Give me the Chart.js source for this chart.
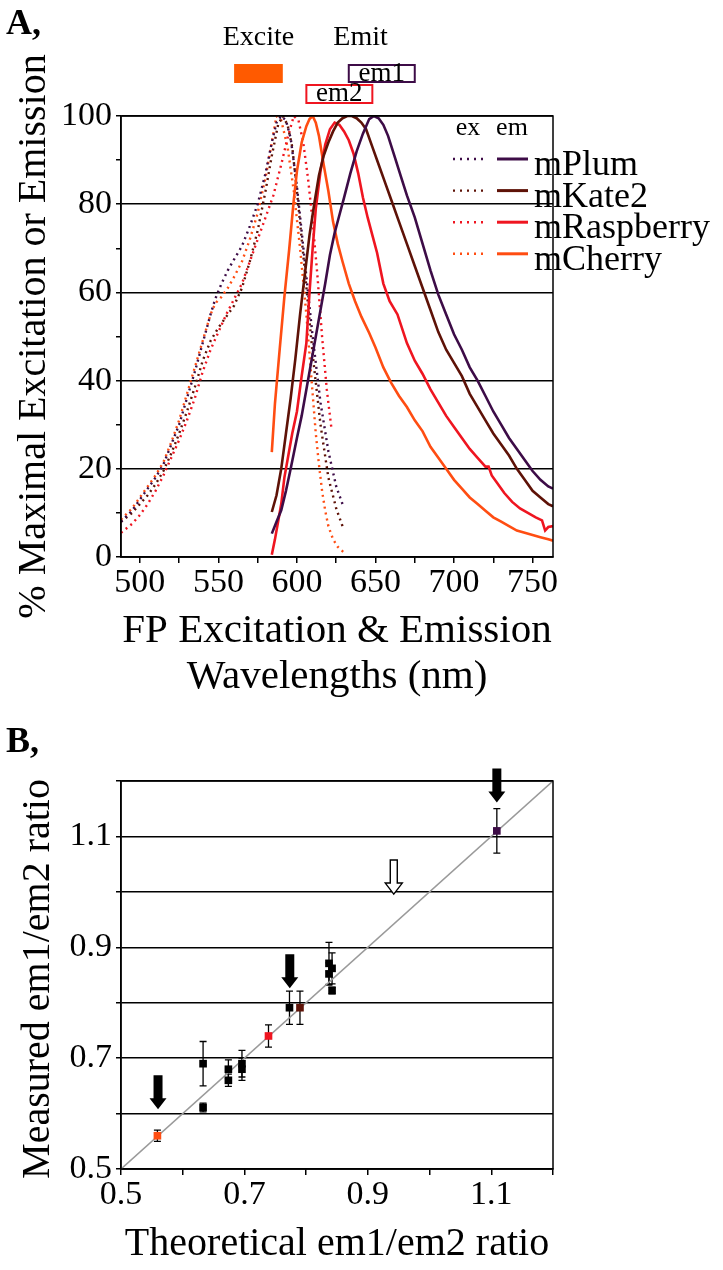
<!DOCTYPE html>
<html>
<head>
<meta charset="utf-8">
<script src="https://cdn.jsdelivr.net/npm/chart.js@4.4.0/dist/chart.umd.min.js"></script>
<style>
  html, body { margin: 0; padding: 0; background: #fff; }
  #page { position: relative; width: 723px; height: 1270px; overflow: hidden; }
  canvas { position: absolute; left: 0; }
  #chartA { top: 0; }
  #chartB { top: 700px; }
</style>
</head>
<body>
<div id="page">
  <canvas id="chartA" width="723" height="700"></canvas>
  <canvas id="chartB" width="723" height="570"></canvas>
</div>
<script>
// ---- Panel A: normalised spectra (% of max) ----
const plumExNm  = [488, 495, 500, 505, 510, 515, 520, 525, 530, 535, 540, 545, 548, 552, 556, 560, 565, 570, 575, 580, 584, 587, 590, 593, 596, 600, 605, 610, 615, 620, 625, 629];
const plumExVal = [8, 10.5, 13, 15.5, 18, 21, 25.5, 30, 36, 42, 48.5, 55, 58.5, 62, 65, 67.5, 70.5, 75, 80, 87, 94, 98.5, 100, 99, 95, 84, 67, 50, 35, 24, 16, 12];

const kateExNm  = [488, 495, 500, 505, 510, 515, 520, 525, 530, 535, 540, 545, 550, 555, 560, 565, 570, 575, 580, 584, 588, 591, 594, 597, 600, 605, 610, 615, 620, 625, 629];
const kateExVal = [8, 10, 12, 14, 16.5, 19.5, 23.5, 28, 33, 38.5, 44.5, 49, 52, 54.5, 57, 61, 67, 74, 83, 91, 98, 100, 98, 93, 83, 65, 46, 30, 18, 11, 7];

const raspExNm  = [488, 495, 500, 505, 510, 515, 520, 525, 530, 535, 540, 545, 550, 555, 560, 565, 570, 575, 580, 585, 590, 594, 598, 601, 604, 607, 610, 613, 616, 619, 622];
const raspExVal = [5.5, 7.5, 9.5, 12, 15, 18.5, 22.5, 26.5, 31, 36, 42, 47, 51, 55, 58.5, 62, 67, 72, 77, 82, 89, 95, 100, 99, 94, 86, 76, 64, 50, 38, 29];

const cherExNm  = [488, 495, 500, 505, 510, 515, 520, 525, 530, 535, 540, 545, 548, 552, 556, 560, 565, 570, 575, 580, 584, 587, 590, 594, 598, 602, 606, 608, 610, 612, 614, 616, 618, 620, 623, 626, 630];
const cherExVal = [8.5, 11, 13.5, 16, 18.5, 21.5, 26, 31, 37, 43, 49, 55, 57.5, 59, 61, 63.5, 67, 72, 78, 86, 94, 100, 99, 93, 83, 70, 55, 46, 37, 28, 21, 15, 10.5, 7, 4, 2.3, 1];

const plumEmNm  = [584, 587, 590, 593, 596, 600, 603, 606, 609, 612, 615, 618, 621, 624, 627, 630, 634, 638, 642, 646, 649, 652, 655, 658, 662, 666, 670, 675, 680, 685, 690, 695, 700, 705, 710, 715, 720, 725, 730, 735, 740, 745, 750, 755, 760, 763];
const plumEmVal = [5.3, 8, 10.6, 15, 20, 27, 32, 38, 44, 50, 56, 62, 68.5, 73.5, 77.5, 81.5, 87, 92, 96, 99.3, 100, 99.5, 98, 95.5, 91, 86.5, 82, 77, 71, 65, 59.5, 55, 50.5, 47, 43, 40, 36.5, 33, 30, 27, 24.5, 22, 19.5, 17.5, 16, 15.5];

const kateEmNm  = [584, 587, 590, 593, 596, 599, 602, 605, 608, 611, 614, 617, 620, 623, 626, 629, 632, 635, 638, 641, 644, 648, 652, 656, 660, 665, 670, 675, 680, 685, 690, 695, 700, 705, 710, 715, 720, 725, 730, 735, 740, 745, 750, 755, 760, 763];
const kateEmVal = [10.2, 14, 20, 28, 36, 45, 55, 64, 73, 80, 86.5, 91, 94, 96.5, 98.5, 99.5, 100, 100, 99.5, 98.5, 97, 93, 89, 85, 81, 76, 71, 66, 61, 56, 51, 47, 44, 41, 37, 34, 31, 28, 25.5, 23, 20, 17.5, 15, 13.5, 12, 11.5];

const raspEmNm  = [584, 586, 588, 590, 592, 594, 597, 600, 603, 606, 608, 610, 612, 615, 618, 621, 624, 627, 630, 633, 636, 639, 642, 645, 648, 651, 655, 659, 664, 670, 675, 680, 685, 690, 695, 700, 705, 710, 715, 720, 722, 724, 727, 732, 737, 742, 747, 752, 756, 758, 760, 763];
const raspEmVal = [0.5, 4, 8, 12, 18, 22, 28, 33, 41, 48.5, 60, 70, 79, 87.5, 93.5, 97, 98.5, 98, 96.5, 94.5, 91.5, 87, 81.5, 77, 73, 69, 62, 58, 55, 48.5, 44.5, 41.5, 38, 35, 32, 29.5, 27, 24.5, 22.5, 20.5, 20.5, 18.5, 17, 14.5, 12.5, 11, 10, 9, 8.3, 6, 6.8, 7];

const cherEmNm  = [584, 586, 589, 592, 595, 598, 600, 603, 606, 608, 610, 612, 614, 617, 620, 623, 626, 629, 633, 637, 641, 646, 650, 655, 660, 665, 670, 675, 680, 685, 690, 695, 700, 705, 710, 715, 720, 725, 730, 735, 740, 745, 750, 755, 760, 763];
const cherEmVal = [23.8, 34.8, 47, 59, 69.5, 81, 87.5, 94, 97.7, 99.3, 100, 98.5, 95.5, 89, 83, 76, 71, 67, 62, 58, 54.5, 50.8, 47.5, 43, 39.5, 36.5, 34, 31, 28.5, 25, 22.5, 20, 17.5, 15.5, 13.5, 12, 10.5, 9, 8, 7, 6, 5.5, 5, 4.5, 4, 3.7];

const proteins = ['mPlum', 'mKate2', 'mRaspberry', 'mCherry'];
const xTicksA = [500, 525, 550, 575, 600, 625, 650, 675, 700, 725, 750];
const yTicksA = [0, 10, 20, 30, 40, 50, 60, 70, 80, 90, 100];

// filter bands drawn above panel A (nm)
const exciteBand = [560, 591];
const em1Band = [633, 675];
const em2Band = [606, 648];

// ---- Panel B: measured vs theoretical em1/em2 ratio ----
const theoRatio = [0.559, 0.633, 0.633, 0.674, 0.674, 0.696, 0.696, 0.739, 0.773, 0.790, 0.837, 0.842, 0.837, 0.842, 1.109];
const measRatio = [0.560, 0.611, 0.690, 0.680, 0.660, 0.690, 0.680, 0.740, 0.791, 0.791, 0.871, 0.862, 0.852, 0.822, 1.110];
const measErr   = [0.010, 0.008, 0.040, 0.017, 0.011, 0.024, 0.020, 0.020, 0.030, 0.030, 0.038, 0.028, 0.020, 0.006, 0.040];
const pointKind = ['cherry', 'k', 'k', 'k', 'k', 'k', 'k', 'rasp', 'k', 'kate', 'k', 'k', 'k', 'k', 'plum'];
const arrowX    = [0.560, 0.7735, 1.109, 0.942];
const arrowTipY = [0.608, 0.826, 1.161, 0.996];
const arrowOpen = [false, false, false, true];
const unityX = [0.5, 1.2];
const unityY = [0.5, 1.2];
const xTicksB = [0.5, 0.6, 0.7, 0.8, 0.9, 1.0, 1.1, 1.2];
const yTicksB = [0.5, 0.6, 0.7, 0.8, 0.9, 1.0, 1.1, 1.2];
const labelsB = [0.5, 0.7, 0.9, 1.1];

const COLORS = { plum: '#3d0c47', kate: '#5e1207', rasp: '#ef1520', cherry: '#ff4d12', k: '#000000' };
const FONT = '"Liberation Serif", "Times New Roman", serif';

function pts(xs, ys) {
  return xs.map(function (x, i) { return { x: x, y: ys[i] }; });
}

function spectrum(xs, ys, color, dotted) {
  return {
    data: pts(xs, ys),
    showLine: true,
    borderColor: color,
    borderWidth: dotted ? 2.4 : 2.6,
    borderDash: dotted ? [2, 4] : [],
    pointRadius: 0,
    fill: false
  };
}

// box, legend, band annotations and titles for panel A
const panelAExtras = {
  id: 'panelAExtras',
  afterDraw(chart) {
    const ctx = chart.ctx;
    const a = chart.chartArea;
    const xs = chart.scales.x;
    ctx.save();
    ctx.strokeStyle = '#000';
    ctx.lineWidth = 1.5;
    ctx.strokeRect(a.left, a.top, a.right - a.left, a.bottom - a.top);

    ctx.fillStyle = '#000';
    ctx.font = 'bold 36px ' + FONT;
    ctx.textAlign = 'left';
    ctx.textBaseline = 'alphabetic';
    ctx.fillText('A,', 6, 34);

    // y title
    ctx.save();
    ctx.translate(34, (a.top + a.bottom) / 2);
    ctx.rotate(-Math.PI / 2);
    ctx.font = '40px ' + FONT;
    ctx.textAlign = 'center';
    ctx.textBaseline = 'middle';
    ctx.fillText('% Maximal Excitation or Emission', 0, 0);
    ctx.restore();

    // Excite / Emit bands
    const ex0 = xs.getPixelForValue(exciteBand[0]), ex1 = xs.getPixelForValue(exciteBand[1]);
    const e10 = xs.getPixelForValue(em1Band[0]), e11 = xs.getPixelForValue(em1Band[1]);
    const e20 = xs.getPixelForValue(em2Band[0]), e21 = xs.getPixelForValue(em2Band[1]);
    ctx.fillStyle = '#ff5a00';
    ctx.fillRect(ex0, 64, ex1 - ex0, 19);
    ctx.lineWidth = 2;
    ctx.strokeStyle = COLORS.plum;
    ctx.strokeRect(e10, 65, e11 - e10, 17);
    ctx.strokeStyle = COLORS.rasp;
    ctx.strokeRect(e20, 85, e21 - e20, 18);

    ctx.fillStyle = '#000';
    ctx.textAlign = 'center';
    ctx.textBaseline = 'alphabetic';
    ctx.font = '28px ' + FONT;
    ctx.fillText('Excite', (ex0 + ex1) / 2, 45);
    ctx.fillText('Emit', (e10 + e11 + e20 + e21) / 4, 45);
    ctx.font = '27px ' + FONT;
    ctx.fillText('em1', (e10 + e11) / 2, 81);
    ctx.fillText('em2', (e20 + e21) / 2, 101);

    // legend
    const keys = ['plum', 'kate', 'rasp', 'cherry'];
    ctx.font = '26px ' + FONT;
    ctx.fillText('ex', 468, 135);
    ctx.fillText('em', 512, 135);
    ctx.textAlign = 'left';
    ctx.font = '36px ' + FONT;
    keys.forEach(function (k, i) {
      const y = 159 + i * 31.6;
      ctx.strokeStyle = COLORS[k];
      ctx.lineWidth = 2.4;
      ctx.setLineDash([2, 5]);
      ctx.beginPath(); ctx.moveTo(453, y); ctx.lineTo(486, y); ctx.stroke();
      ctx.setLineDash([]);
      ctx.lineWidth = 3;
      ctx.beginPath(); ctx.moveTo(497, y); ctx.lineTo(528, y); ctx.stroke();
      ctx.fillStyle = '#000';
      ctx.fillText(proteins[i], 534, y + 16);
    });
    ctx.restore();
  }
};

new Chart(document.getElementById('chartA'), {
  type: 'scatter',
  data: {
    datasets: [
      spectrum(plumEmNm, plumEmVal, COLORS.plum, false),
      spectrum(kateEmNm, kateEmVal, COLORS.kate, false),
      spectrum(raspEmNm, raspEmVal, COLORS.rasp, false),
      spectrum(cherEmNm, cherEmVal, COLORS.cherry, false),
      spectrum(plumExNm, plumExVal, COLORS.plum, true),
      spectrum(kateExNm, kateExVal, COLORS.kate, true),
      spectrum(raspExNm, raspExVal, COLORS.rasp, true),
      spectrum(cherExNm, cherExVal, COLORS.cherry, true)
    ]
  },
  options: {
    responsive: false,
    animation: false,
    devicePixelRatio: 1,
    layout: { padding: { left: 0, top: 116, right: 170, bottom: 0 } },
    plugins: { legend: { display: false }, tooltip: { enabled: false } },
    scales: {
      x: {
        type: 'linear',
        min: 488,
        max: 763,
        afterBuildTicks: function (s) { s.ticks = xTicksA.map(function (v) { return { value: v }; }); },
        afterFit: function (s) { s.height = 143; },
        border: { color: '#000', width: 1.5 },
        grid: { drawOnChartArea: false, color: '#000', lineWidth: 1.5, tickLength: 6 },
        ticks: {
          color: '#000', font: { family: FONT, size: 34 }, padding: 0,
          maxRotation: 0, autoSkip: false,
          callback: function (v) { return v % 50 === 0 ? String(v) : ''; }
        },
        title: {
          display: true,
          text: ['FP Excitation & Emission', 'Wavelengths (nm)'],
          color: '#000',
          font: { family: FONT, size: 41, lineHeight: 1.12 },
          padding: { top: 0, bottom: 0 }
        }
      },
      y: {
        type: 'linear',
        min: 0,
        max: 100,
        afterBuildTicks: function (s) { s.ticks = yTicksA.map(function (v) { return { value: v }; }); },
        afterFit: function (s) { s.width = 121; },
        border: { color: '#000', width: 1.5 },
        grid: {
          color: function (c) { return c.tick && c.tick.value % 20 === 0 ? '#000' : 'rgba(0,0,0,0)'; },
          tickColor: '#000',
          lineWidth: 1.5,
          tickLength: 5
        },
        ticks: {
          color: '#000', font: { family: FONT, size: 34 }, padding: 4,
          callback: function (v) { return v % 20 === 0 ? String(v) : ''; }
        }
      }
    }
  },
  plugins: [panelAExtras]
});

// error bars, box, arrows and y title for panel B
const panelBExtras = {
  id: 'panelBExtras',
  beforeDatasetsDraw(chart) {
    const ctx = chart.ctx;
    const xs = chart.scales.x, ys = chart.scales.y;
    ctx.save();
    ctx.strokeStyle = '#000';
    ctx.lineWidth = 1.3;
    theoRatio.forEach(function (t, i) {
      const px = xs.getPixelForValue(t);
      const top = ys.getPixelForValue(measRatio[i] + measErr[i]);
      const bot = ys.getPixelForValue(measRatio[i] - measErr[i]);
      ctx.beginPath();
      ctx.moveTo(px, top); ctx.lineTo(px, bot);
      ctx.moveTo(px - 3.5, top); ctx.lineTo(px + 3.5, top);
      ctx.moveTo(px - 3.5, bot); ctx.lineTo(px + 3.5, bot);
      ctx.stroke();
    });
    ctx.restore();
  },
  afterDraw(chart) {
    const ctx = chart.ctx;
    const a = chart.chartArea;
    const xs = chart.scales.x, ys = chart.scales.y;
    ctx.save();
    ctx.strokeStyle = '#000';
    ctx.lineWidth = 1.5;
    ctx.strokeRect(a.left, a.top, a.right - a.left, a.bottom - a.top);

    ctx.fillStyle = '#000';
    ctx.font = 'bold 36px ' + FONT;
    ctx.textAlign = 'left';
    ctx.textBaseline = 'alphabetic';
    ctx.fillText('B,', 6, 52);

    ctx.save();
    ctx.translate(38, (a.top + a.bottom) / 2 + 4);
    ctx.rotate(-Math.PI / 2);
    ctx.font = '40px ' + FONT;
    ctx.textAlign = 'center';
    ctx.textBaseline = 'middle';
    ctx.fillText('Measured em1/em2 ratio', 0, 0);
    ctx.restore();

    // arrows pointing down at selected constructs
    arrowX.forEach(function (ax, i) {
      const x = xs.getPixelForValue(ax);
      const tip = ys.getPixelForValue(arrowTipY[i]);
      const len = 34, head = 11, shaft = arrowOpen[i] ? 3.5 : 4.5, wing = 8.5;
      ctx.beginPath();
      ctx.moveTo(x - shaft, tip - len);
      ctx.lineTo(x + shaft, tip - len);
      ctx.lineTo(x + shaft, tip - head);
      ctx.lineTo(x + wing, tip - head);
      ctx.lineTo(x, tip);
      ctx.lineTo(x - wing, tip - head);
      ctx.lineTo(x - shaft, tip - head);
      ctx.closePath();
      if (arrowOpen[i]) {
        ctx.fillStyle = '#fff';
        ctx.fill();
        ctx.lineWidth = 1.4;
        ctx.stroke();
      } else {
        ctx.fillStyle = '#000';
        ctx.fill();
      }
    });
    ctx.restore();
  }
};

new Chart(document.getElementById('chartB'), {
  type: 'scatter',
  data: {
    datasets: [
      {
        data: pts(theoRatio, measRatio),
        pointStyle: 'rect',
        pointRadius: 5.4,
        pointBackgroundColor: pointKind.map(function (k) { return COLORS[k]; }),
        pointBorderWidth: 0,
        showLine: false
      },
      {
        data: pts(unityX, unityY),
        showLine: true,
        borderColor: '#9a9a9a',
        borderWidth: 1.6,
        pointRadius: 0
      }
    ]
  },
  options: {
    responsive: false,
    animation: false,
    devicePixelRatio: 1,
    layout: { padding: { left: 0, top: 81, right: 170, bottom: 0 } },
    plugins: { legend: { display: false }, tooltip: { enabled: false } },
    scales: {
      x: {
        type: 'linear',
        min: 0.5,
        max: 1.2,
        afterBuildTicks: function (s) { s.ticks = xTicksB.map(function (v) { return { value: v }; }); },
        afterFit: function (s) { s.height = 101; },
        border: { color: '#000', width: 1.5 },
        grid: { drawOnChartArea: false, color: '#000', lineWidth: 1.5, tickLength: 6 },
        ticks: {
          color: '#000', font: { family: FONT, size: 34 }, padding: 0,
          maxRotation: 0, autoSkip: false,
          callback: function (v) { return labelsB.indexOf(v) >= 0 ? v.toFixed(1) : ''; }
        },
        title: {
          display: true,
          text: 'Theoretical em1/em2 ratio',
          color: '#000',
          font: { family: FONT, size: 40, lineHeight: 1.1 },
          padding: { top: 0, bottom: 4 }
        }
      },
      y: {
        type: 'linear',
        min: 0.5,
        max: 1.2,
        afterBuildTicks: function (s) { s.ticks = yTicksB.map(function (v) { return { value: v }; }); },
        afterFit: function (s) { s.width = 121; },
        border: { color: '#000', width: 1.5 },
        grid: { color: '#000', lineWidth: 1.5, tickLength: 5 },
        ticks: {
          color: '#000', font: { family: FONT, size: 34 }, padding: 4,
          callback: function (v) { return labelsB.indexOf(v) >= 0 ? v.toFixed(1) : ''; }
        }
      }
    }
  },
  plugins: [panelBExtras]
});
</script>
</body>
</html>
